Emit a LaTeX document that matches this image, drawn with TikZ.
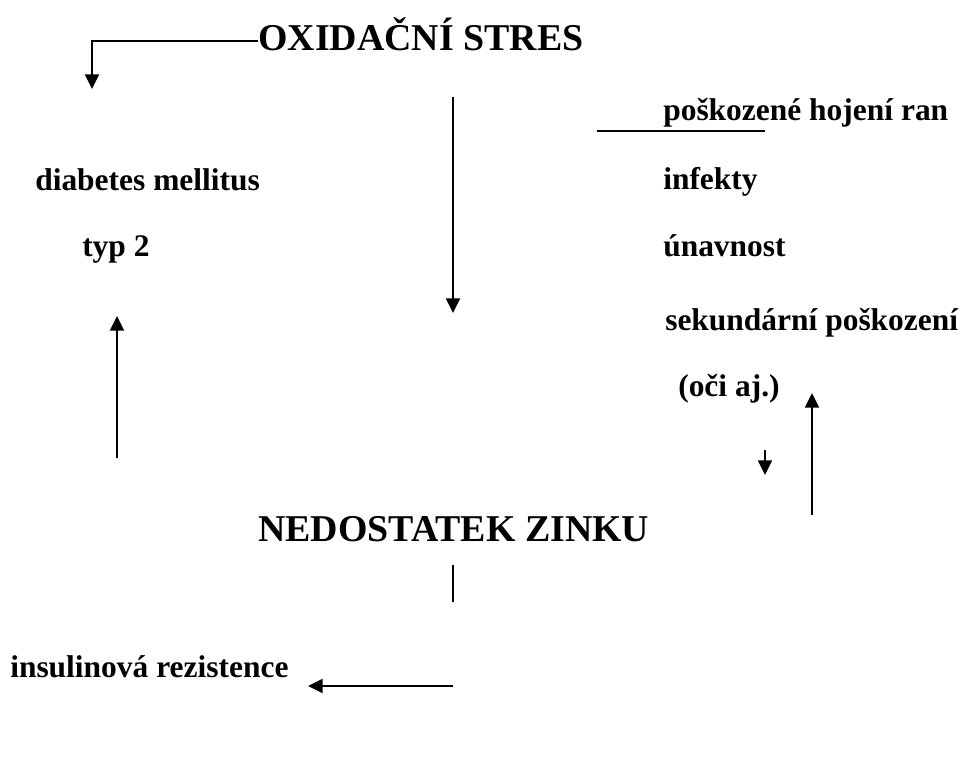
\documentclass[tikz,border=0pt]{standalone}
\usepackage{fontspec}
\setmainfont{Liberation Serif}
\usetikzlibrary{arrows.meta}
\begin{document}
\begin{tikzpicture}[x=0.75pt,y=-0.75pt,
  big/.style={inner sep=0pt,anchor=base west,font=\fontsize{28.4}{32}\selectfont\bfseries},
  small/.style={inner sep=0pt,anchor=base west,font=\fontsize{23.6}{28}\selectfont\bfseries},
  conn/.style={line width=1.4pt},
  arr/.style={conn,-{Triangle[width=10.5pt,length=11pt]}}]
\useasboundingbox (0,0) rectangle (968,783);
% texts
\node[big] (ox) at (258,50) {OXIDAČNÍ STRES};
\node[big] (zn) at (258,541) {NEDOSTATEK ZINKU};
\node[small] (dm) at (35,190) {diabetes mellitus};
\node[small] (t2) at (82,256) {typ 2};
\node[small] (ph) at (663,120) {poškozené hojení ran};
\node[small] (inf) at (663,189) {infekty};
\node[small] (un) at (663,256) {únavnost};
\node[small] (sp) at (665,330) {sekundární poškození};
\node[small] (oc) at (678,396) {(oči aj.)};
\node[small] (ir) at (10,677) {insulinová rezistence};
% coordinates
\coordinate (a1) at (258,41);
\coordinate (a2) at (92,41);
\coordinate (a3) at (92,89);
\coordinate (b1) at (453,97);
\coordinate (b2) at (453,313);
\coordinate (c1) at (597,131);
\coordinate (c2) at (765,131);
\coordinate (d1) at (117,458);
\coordinate (d2) at (117,316);
\coordinate (e1) at (812,515);
\coordinate (e2) at (812,393);
\coordinate (f1) at (765,450);
\coordinate (f2) at (765,475);
\coordinate (g1) at (453,565);
\coordinate (g2) at (453,602);
\coordinate (h1) at (453,686);
\coordinate (h2) at (308,686);
% connectors
\draw[arr] (a1) -- (a2) -- (a3);
\draw[arr] (b1) -- (b2);
\draw[conn] (c1) -- (c2);
\draw[arr] (d1) -- (d2);
\draw[arr] (e1) -- (e2);
\draw[arr] (f1) -- (f2);
\draw[conn] (g1) -- (g2);
\draw[arr] (h1) -- (h2);
\end{tikzpicture}
\end{document}
